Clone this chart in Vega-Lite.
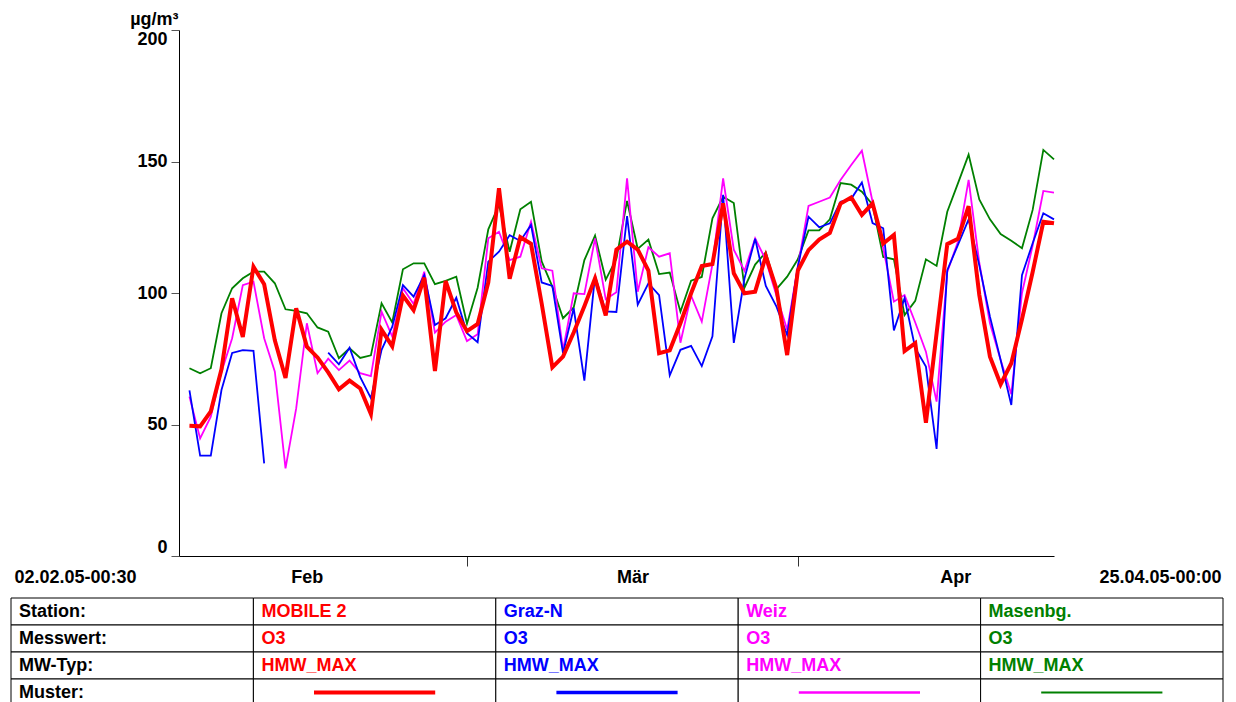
{
  "$schema": "https://vega.github.io/schema/vega-lite/v6.json",
  "background": "white",
  "padding": {"left": 10, "top": 10, "right": 0, "bottom": 0},
  "spacing": 11,
  "config": {"view": {"stroke": null}, "font": "Liberation Sans"},
  "vconcat": [
    {
      "width": 875,
      "height": 526,
      "data": {"values": [
        {"d":"2005-02-03T00:00:00","mobile2":49.5,"grazN":63,"weiz":60.6,"masenbg":71.4},
        {"d":"2005-02-04T00:00:00","mobile2":49.3,"grazN":38.2,"weiz":44.7,"masenbg":69.5},
        {"d":"2005-02-05T00:00:00","mobile2":55,"grazN":38.2,"weiz":53,"masenbg":71.4},
        {"d":"2005-02-06T00:00:00","mobile2":71,"grazN":63.1,"weiz":70,"masenbg":92.3},
        {"d":"2005-02-07T00:00:00","mobile2":98,"grazN":77.2,"weiz":82.8,"masenbg":101.8},
        {"d":"2005-02-08T00:00:00","mobile2":83.3,"grazN":78.3,"weiz":103,"masenbg":105.6},
        {"d":"2005-02-09T00:00:00","mobile2":110,"grazN":78,"weiz":104.3,"masenbg":108.1},
        {"d":"2005-02-10T00:00:00","mobile2":103.3,"grazN":35.2,"weiz":82.8,"masenbg":108.1},
        {"d":"2005-02-11T00:00:00","mobile2":82,"grazN":null,"weiz":70.1,"masenbg":103.7},
        {"d":"2005-02-12T00:00:00","mobile2":67.7,"grazN":null,"weiz":33.3,"masenbg":93.8},
        {"d":"2005-02-13T00:00:00","mobile2":94.2,"grazN":null,"weiz":56.1,"masenbg":93.2},
        {"d":"2005-02-14T00:00:00","mobile2":79.6,"grazN":null,"weiz":88.5,"masenbg":92.3},
        {"d":"2005-02-15T00:00:00","mobile2":75.5,"grazN":null,"weiz":69.5,"masenbg":86.9},
        {"d":"2005-02-16T00:00:00","mobile2":69.8,"grazN":77.3,"weiz":75,"masenbg":85.3},
        {"d":"2005-02-17T00:00:00","mobile2":63.4,"grazN":72.9,"weiz":70.7,"masenbg":75.2},
        {"d":"2005-02-18T00:00:00","mobile2":66.7,"grazN":79.2,"weiz":74.3,"masenbg":79},
        {"d":"2005-02-19T00:00:00","mobile2":63.7,"grazN":68,"weiz":69.5,"masenbg":75.3},
        {"d":"2005-02-20T00:00:00","mobile2":54,"grazN":60,"weiz":68.4,"masenbg":76.3},
        {"d":"2005-02-21T00:00:00","mobile2":86,"grazN":78.4,"weiz":92.9,"masenbg":96.1},
        {"d":"2005-02-22T00:00:00","mobile2":79.7,"grazN":87.2,"weiz":83.4,"masenbg":88.8},
        {"d":"2005-02-23T00:00:00","mobile2":99,"grazN":103,"weiz":101.8,"masenbg":109},
        {"d":"2005-02-24T00:00:00","mobile2":93.5,"grazN":98.6,"weiz":95.8,"masenbg":111.3},
        {"d":"2005-02-25T00:00:00","mobile2":105.8,"grazN":106.8,"weiz":108.1,"masenbg":111.3},
        {"d":"2005-02-26T00:00:00","mobile2":70.3,"grazN":87.8,"weiz":84.9,"masenbg":103.4},
        {"d":"2005-02-27T00:00:00","mobile2":104.6,"grazN":90.4,"weiz":89.1,"masenbg":104.6},
        {"d":"2005-02-28T00:00:00","mobile2":92.6,"grazN":98.2,"weiz":91.6,"masenbg":106.2},
        {"d":"2005-03-01T00:00:00","mobile2":85.5,"grazN":84.7,"weiz":81.7,"masenbg":88.3},
        {"d":"2005-03-02T00:00:00","mobile2":88.2,"grazN":81.3,"weiz":84.3,"masenbg":102},
        {"d":"2005-03-03T00:00:00","mobile2":104,"grazN":111.9,"weiz":120.8,"masenbg":124.2},
        {"d":"2005-03-04T00:00:00","mobile2":139.8,"grazN":115.7,"weiz":123.3,"masenbg":133.5},
        {"d":"2005-03-05T00:00:00","mobile2":105.4,"grazN":122,"weiz":112.5,"masenbg":115.7},
        {"d":"2005-03-06T00:00:00","mobile2":121.2,"grazN":119.8,"weiz":113.8,"masenbg":131.8},
        {"d":"2005-03-07T00:00:00","mobile2":118.7,"grazN":125.9,"weiz":127.1,"masenbg":134.7},
        {"d":"2005-03-08T00:00:00","mobile2":96,"grazN":104,"weiz":109.4,"masenbg":112},
        {"d":"2005-03-09T00:00:00","mobile2":71.7,"grazN":102.7,"weiz":108.5,"masenbg":102.4},
        {"d":"2005-03-10T00:00:00","mobile2":75.8,"grazN":77.1,"weiz":78.3,"masenbg":90.4},
        {"d":"2005-03-11T00:00:00","mobile2":85,"grazN":94.2,"weiz":99.9,"masenbg":94.5},
        {"d":"2005-03-12T00:00:00","mobile2":95,"grazN":66.7,"weiz":99.6,"masenbg":112.5},
        {"d":"2005-03-13T00:00:00","mobile2":105.6,"grazN":106.6,"weiz":120.8,"masenbg":121.8},
        {"d":"2005-03-14T00:00:00","mobile2":91.5,"grazN":93,"weiz":97.6,"masenbg":105.1},
        {"d":"2005-03-15T00:00:00","mobile2":116.5,"grazN":92.8,"weiz":100.3,"masenbg":113},
        {"d":"2005-03-16T00:00:00","mobile2":119.5,"grazN":129.2,"weiz":143.6,"masenbg":135},
        {"d":"2005-03-17T00:00:00","mobile2":116.5,"grazN":95.6,"weiz":100.5,"masenbg":116.8},
        {"d":"2005-03-18T00:00:00","mobile2":108.5,"grazN":103.7,"weiz":117.4,"masenbg":120.3},
        {"d":"2005-03-19T00:00:00","mobile2":77.1,"grazN":99.2,"weiz":113.8,"masenbg":107.2},
        {"d":"2005-03-20T00:00:00","mobile2":78.2,"grazN":68.7,"weiz":115.1,"masenbg":107.8},
        {"d":"2005-03-21T00:00:00","mobile2":88.5,"grazN":78.4,"weiz":81.1,"masenbg":92.9},
        {"d":"2005-03-22T00:00:00","mobile2":99.9,"grazN":79.9,"weiz":99,"masenbg":104.7},
        {"d":"2005-03-23T00:00:00","mobile2":110.3,"grazN":72.2,"weiz":89.1,"masenbg":106.1},
        {"d":"2005-03-24T00:00:00","mobile2":111,"grazN":83.5,"weiz":111,"masenbg":128.4},
        {"d":"2005-03-25T00:00:00","mobile2":134.1,"grazN":137.3,"weiz":143.6,"masenbg":136.6},
        {"d":"2005-03-26T00:00:00","mobile2":107.5,"grazN":81,"weiz":116.5,"masenbg":134.2},
        {"d":"2005-03-27T00:00:00","mobile2":99.9,"grazN":105.5,"weiz":108.4,"masenbg":102},
        {"d":"2005-03-28T00:00:00","mobile2":100.5,"grazN":120.6,"weiz":120.8,"masenbg":110.8},
        {"d":"2005-03-29T00:00:00","mobile2":114,"grazN":102.7,"weiz":112.5,"masenbg":115.5},
        {"d":"2005-03-30T00:00:00","mobile2":101.5,"grazN":94.8,"weiz":99,"masenbg":101.5},
        {"d":"2005-03-31T00:00:00","mobile2":76.4,"grazN":84,"weiz":86,"masenbg":106.2},
        {"d":"2005-04-01T00:00:00","mobile2":108.5,"grazN":110,"weiz":110,"masenbg":112.8},
        {"d":"2005-04-02T00:00:00","mobile2":116.3,"grazN":129,"weiz":133.1,"masenbg":123.8},
        {"d":"2005-04-03T00:00:00","mobile2":120.3,"grazN":125,"weiz":134.7,"masenbg":123.8},
        {"d":"2005-04-04T00:00:00","mobile2":122.8,"grazN":126.5,"weiz":136.3,"masenbg":128},
        {"d":"2005-04-05T00:00:00","mobile2":134,"grazN":134.7,"weiz":143,"masenbg":141.8},
        {"d":"2005-04-06T00:00:00","mobile2":136.3,"grazN":135.8,"weiz":148.7,"masenbg":141.2},
        {"d":"2005-04-07T00:00:00","mobile2":129.7,"grazN":142,"weiz":154.1,"masenbg":138.5},
        {"d":"2005-04-08T00:00:00","mobile2":134.1,"grazN":126.6,"weiz":134.7,"masenbg":133.6},
        {"d":"2005-04-09T00:00:00","mobile2":118.8,"grazN":124.6,"weiz":117,"masenbg":113.7},
        {"d":"2005-04-10T00:00:00","mobile2":122.1,"grazN":85.8,"weiz":96.7,"masenbg":112.8},
        {"d":"2005-04-11T00:00:00","mobile2":77.9,"grazN":98,"weiz":99.2,"masenbg":91.6},
        {"d":"2005-04-12T00:00:00","mobile2":80.9,"grazN":79,"weiz":88.8,"masenbg":97},
        {"d":"2005-04-13T00:00:00","mobile2":50.7,"grazN":72,"weiz":77.7,"masenbg":112.8},
        {"d":"2005-04-14T00:00:00","mobile2":84.7,"grazN":40.7,"weiz":58.7,"masenbg":110.3},
        {"d":"2005-04-15T00:00:00","mobile2":118.6,"grazN":108.7,"weiz":108,"masenbg":130.9},
        {"d":"2005-04-16T00:00:00","mobile2":120.6,"grazN":118.3,"weiz":119.5,"masenbg":141.7},
        {"d":"2005-04-17T00:00:00","mobile2":133,"grazN":128,"weiz":143,"masenbg":152.6},
        {"d":"2005-04-18T00:00:00","mobile2":99.3,"grazN":110.5,"weiz":111.5,"masenbg":135.6},
        {"d":"2005-04-19T00:00:00","mobile2":75.8,"grazN":91,"weiz":88.5,"masenbg":128},
        {"d":"2005-04-20T00:00:00","mobile2":65.3,"grazN":74.5,"weiz":74.5,"masenbg":122.4},
        {"d":"2005-04-21T00:00:00","mobile2":73.3,"grazN":57.4,"weiz":61.5,"masenbg":119.9},
        {"d":"2005-04-22T00:00:00","mobile2":90,"grazN":106.8,"weiz":100,"masenbg":117},
        {"d":"2005-04-23T00:00:00","mobile2":108,"grazN":118.9,"weiz":118,"masenbg":131.6},
        {"d":"2005-04-24T00:00:00","mobile2":127.1,"grazN":130.3,"weiz":138.8,"masenbg":154.4},
        {"d":"2005-04-25T00:00:00","mobile2":126.5,"grazN":128,"weiz":138.2,"masenbg":150.8}
      ]},
      "transform": [{"fold": ["masenbg", "weiz", "grazN", "mobile2"], "as": ["station", "value"]}],
      "encoding": {
        "x": {
          "field": "d",
          "type": "temporal",
          "scale": {"domain": [{"year": 2005, "month": 2, "date": 2, "hours": 0, "minutes": 30}, {"year": 2005, "month": 4, "date": 25}]},
          "axis": {
            "title": null,
            "grid": false,
            "values": [
              {"year": 2005, "month": 2, "date": 2, "hours": 0, "minutes": 30},
              {"year": 2005, "month": 2, "date": 14},
              {"year": 2005, "month": 3, "date": 1},
              {"year": 2005, "month": 3, "date": 16, "hours": 12},
              {"year": 2005, "month": 4, "date": 1},
              {"year": 2005, "month": 4, "date": 15, "hours": 18},
              {"year": 2005, "month": 4, "date": 25}
            ],
            "labelExpr": "datum.value < datetime(2005,1,3) ? '02.02.05-00:30' : (datum.value > datetime(2005,3,24) ? '25.04.05-00:00' : ((date(datum.value) == 1 && hours(datum.value) == 0) ? '' : (month(datum.value) == 1 ? 'Feb' : (month(datum.value) == 2 ? 'Mär' : 'Apr'))))",
            "labelAlign": {"condition": [{"test": "datum.value < datetime(2005,1,3)", "value": "right"}, {"test": "datum.value > datetime(2005,3,24)", "value": "left"}], "value": "center"},
            "labelOffset": {"condition": [{"test": "datum.value < datetime(2005,1,3)", "value": -43}, {"test": "datum.value > datetime(2005,3,24)", "value": 45}], "value": 0},
            "tickOpacity": {"condition": {"test": "date(datum.value) == 1 && hours(datum.value) == 0", "value": 1}, "value": 0},
            "tickSize": 10,
            "tickColor": "#333333",
            "domainColor": "black",
            "labelOverlap": false,
            "labelBound": false,
            "labelFlush": false,
            "labelPadding": 2,
            "labelFontSize": 18,
            "labelFontWeight": "bold",
            "labelColor": "black"
          }
        },
        "y": {
          "field": "value",
          "type": "quantitative",
          "scale": {"domain": [0, 200], "nice": false},
          "axis": {
            "values": [0, 50, 100, 150, 200],
            "title": "µg/m³",
            "titleAngle": 0,
            "titleAlign": "right",
            "titleBaseline": "alphabetic",
            "titleX": -1,
            "titleY": -6,
            "titleFontSize": 18,
            "titleFontWeight": "bold",
            "titleColor": "black",
            "grid": false,
            "labelFlush": true,
            "labelFontSize": 18,
            "labelFontWeight": "bold",
            "labelColor": "black",
            "labelPadding": 4,
            "tickSize": 8,
            "tickColor": "#555555",
            "domainColor": "black"
          }
        }
      },
      "layer": [
        {"transform": [{"filter": "datum.station == 'masenbg'"}], "mark": {"type": "line", "color": "#008000", "strokeWidth": 1.8, "invalid": "break-paths-show-domains"}},
        {"transform": [{"filter": "datum.station == 'weiz'"}], "mark": {"type": "line", "color": "#ff00ff", "strokeWidth": 1.8, "invalid": "break-paths-show-domains"}},
        {"transform": [{"filter": "datum.station == 'grazN'"}], "mark": {"type": "line", "color": "#0000ff", "strokeWidth": 1.8, "invalid": "break-paths-show-domains"}},
        {"transform": [{"filter": "datum.station == 'mobile2'"}], "mark": {"type": "line", "color": "#ff0000", "strokeWidth": 4, "invalid": "break-paths-show-domains"}}
      ]
    },
    {
      "width": 875,
      "height": 108,
      "data": {"values": [
        {"row": "Station:", "col": "label", "text": "Station:"},
        {"row": "Station:", "col": "MOBILE 2", "text": "MOBILE 2"},
        {"row": "Station:", "col": "Graz-N", "text": "Graz-N"},
        {"row": "Station:", "col": "Weiz", "text": "Weiz"},
        {"row": "Station:", "col": "Masenbg.", "text": "Masenbg."},
        {"row": "Messwert:", "col": "label", "text": "Messwert:"},
        {"row": "Messwert:", "col": "MOBILE 2", "text": "O3"},
        {"row": "Messwert:", "col": "Graz-N", "text": "O3"},
        {"row": "Messwert:", "col": "Weiz", "text": "O3"},
        {"row": "Messwert:", "col": "Masenbg.", "text": "O3"},
        {"row": "MW-Typ:", "col": "label", "text": "MW-Typ:"},
        {"row": "MW-Typ:", "col": "MOBILE 2", "text": "HMW_MAX"},
        {"row": "MW-Typ:", "col": "Graz-N", "text": "HMW_MAX"},
        {"row": "MW-Typ:", "col": "Weiz", "text": "HMW_MAX"},
        {"row": "MW-Typ:", "col": "Masenbg.", "text": "HMW_MAX"},
        {"row": "Muster:", "col": "label", "text": "Muster:"},
        {"row": "Muster:", "col": "MOBILE 2", "text": ""},
        {"row": "Muster:", "col": "Graz-N", "text": ""},
        {"row": "Muster:", "col": "Weiz", "text": ""},
        {"row": "Muster:", "col": "Masenbg.", "text": ""}
      ]},
      "encoding": {
        "x": {"field": "col", "type": "nominal", "scale": {"type": "band", "domain": ["label", "MOBILE 2", "Graz-N", "Weiz", "Masenbg."], "range": [-168, 1044], "paddingInner": 0, "paddingOuter": 0}, "axis": null},
        "y": {"field": "row", "type": "nominal", "scale": {"type": "band", "domain": ["Station:", "Messwert:", "MW-Typ:", "Muster:"], "paddingInner": 0, "paddingOuter": 0}, "axis": null}
      },
      "layer": [
        {"mark": {"type": "rect", "fill": "white", "stroke": "black", "strokeWidth": 1}},
        {
          "transform": [{"filter": "datum.text != ''"}],
          "mark": {"type": "text", "align": "left", "baseline": "middle", "dx": 8, "fontSize": 18, "fontWeight": "bold"},
          "encoding": {
            "x": {"field": "col", "type": "nominal", "bandPosition": 0},
            "text": {"field": "text"},
            "color": {"field": "col", "type": "nominal", "scale": {"domain": ["label", "MOBILE 2", "Graz-N", "Weiz", "Masenbg."], "range": ["#000000", "#ff0000", "#0000ff", "#ff00ff", "#008000"]}, "legend": null}
          }
        },
        {
          "transform": [{"filter": "datum.row == 'Muster:' && datum.col != 'label'"}],
          "mark": {"type": "rule"},
          "encoding": {
            "x": {"field": "col", "type": "nominal", "bandPosition": 0.25},
            "x2": {"field": "col", "bandPosition": 0.75},
            "color": {"field": "col", "type": "nominal", "scale": {"domain": ["label", "MOBILE 2", "Graz-N", "Weiz", "Masenbg."], "range": ["#000000", "#ff0000", "#0000ff", "#ff00ff", "#008000"]}, "legend": null},
            "strokeWidth": {"field": "col", "type": "nominal", "scale": {"domain": ["MOBILE 2", "Graz-N", "Weiz", "Masenbg."], "range": [4, 2, 2, 2]}, "legend": null}
          }
        }
      ]
    }
  ]
}
